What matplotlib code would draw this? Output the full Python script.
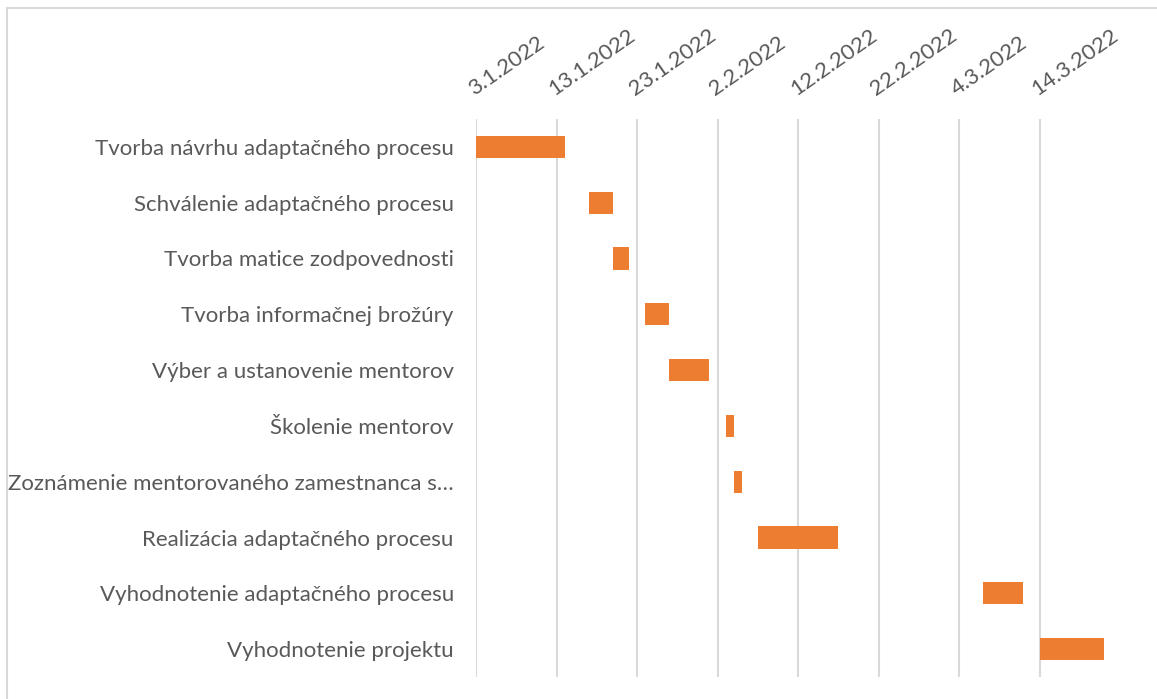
import datetime as dt

import matplotlib.pyplot as plt
import matplotlib.dates as mdates
import matplotlib.transforms as mtransforms
from matplotlib.patches import Rectangle

tasks = [
    'Tvorba návrhu adaptačného procesu',
    'Schválenie adaptačného procesu',
    'Tvorba matice zodpovednosti',
    'Tvorba informačnej brožúry',
    'Výber a ustanovenie mentorov',
    'Školenie mentorov',
    'Zoznámenie mentorovaného zamestnanca s…',
    'Realizácia adaptačného procesu',
    'Vyhodnotenie adaptačného procesu',
    'Vyhodnotenie projektu',
]
starts = ['2022-01-03', '2022-01-17', '2022-01-20', '2022-01-24', '2022-01-27',
          '2022-02-03', '2022-02-04', '2022-02-07', '2022-03-07', '2022-03-14']
durations = [11, 3, 2, 3, 5, 1, 1, 10, 5, 8]

tick_dates = ['2022-01-03', '2022-01-13', '2022-01-23', '2022-02-02',
              '2022-02-12', '2022-02-22', '2022-03-04', '2022-03-14']
axis_end = '2022-03-24'

ORANGE = '#ED7D31'
GRID = '#D9D9D9'
TEXT = '#595959'

plt.rcParams['font.family'] = ['Lato', 'DejaVu Sans']

to_num = lambda s: mdates.date2num(dt.datetime.strptime(s, '%Y-%m-%d'))

fig = plt.figure(figsize=(11.57, 6.99), dpi=100)
ax = fig.add_axes([476 / 1157, 1 - 677 / 699, (1120 - 476) / 1157, (677 - 119) / 699])

ypos = list(range(len(tasks)))
ax.barh(ypos, durations, left=[to_num(s) for s in starts], height=0.4,
        color=ORANGE, zorder=3)

ax.set_ylim(len(tasks) - 0.5, -0.5)
ax.set_yticks(ypos)
ax.set_yticklabels(tasks, fontsize=16, color=TEXT)

ticks = [to_num(s) for s in tick_dates]
ax.set_xlim(ticks[0], to_num(axis_end))
ax.xaxis.tick_top()
ax.set_xticks(ticks)
ax.set_xticklabels([f'{d.day}.{d.month}.{d.year}' for d in
                    (dt.datetime.strptime(s, '%Y-%m-%d') for s in tick_dates)],
                   rotation=35, ha='left', va='bottom', rotation_mode='anchor',
                   fontsize=16, color=TEXT)
# nudge the slanted date labels so they start right at their gridline
shift = mtransforms.ScaledTranslation(5 / 100, 0, fig.dpi_scale_trans)
for lbl in ax.get_xticklabels():
    lbl.set_transform(lbl.get_transform() + shift)
ax.tick_params(axis='x', length=0, pad=14)
ax.tick_params(axis='y', length=0, pad=16)
ax.grid(axis='x', color=GRID, linewidth=1.5, zorder=0)
for side in ax.spines.values():
    side.set_visible(False)

# light frame around the chart area
fig.patches.append(Rectangle((7 / 1157, -0.1), 1.2, 1 - 7.5 / 699 + 0.1,
                             transform=fig.transFigure, fill=False,
                             edgecolor=GRID, linewidth=1.5))

fig.savefig('out.png', dpi=100)
